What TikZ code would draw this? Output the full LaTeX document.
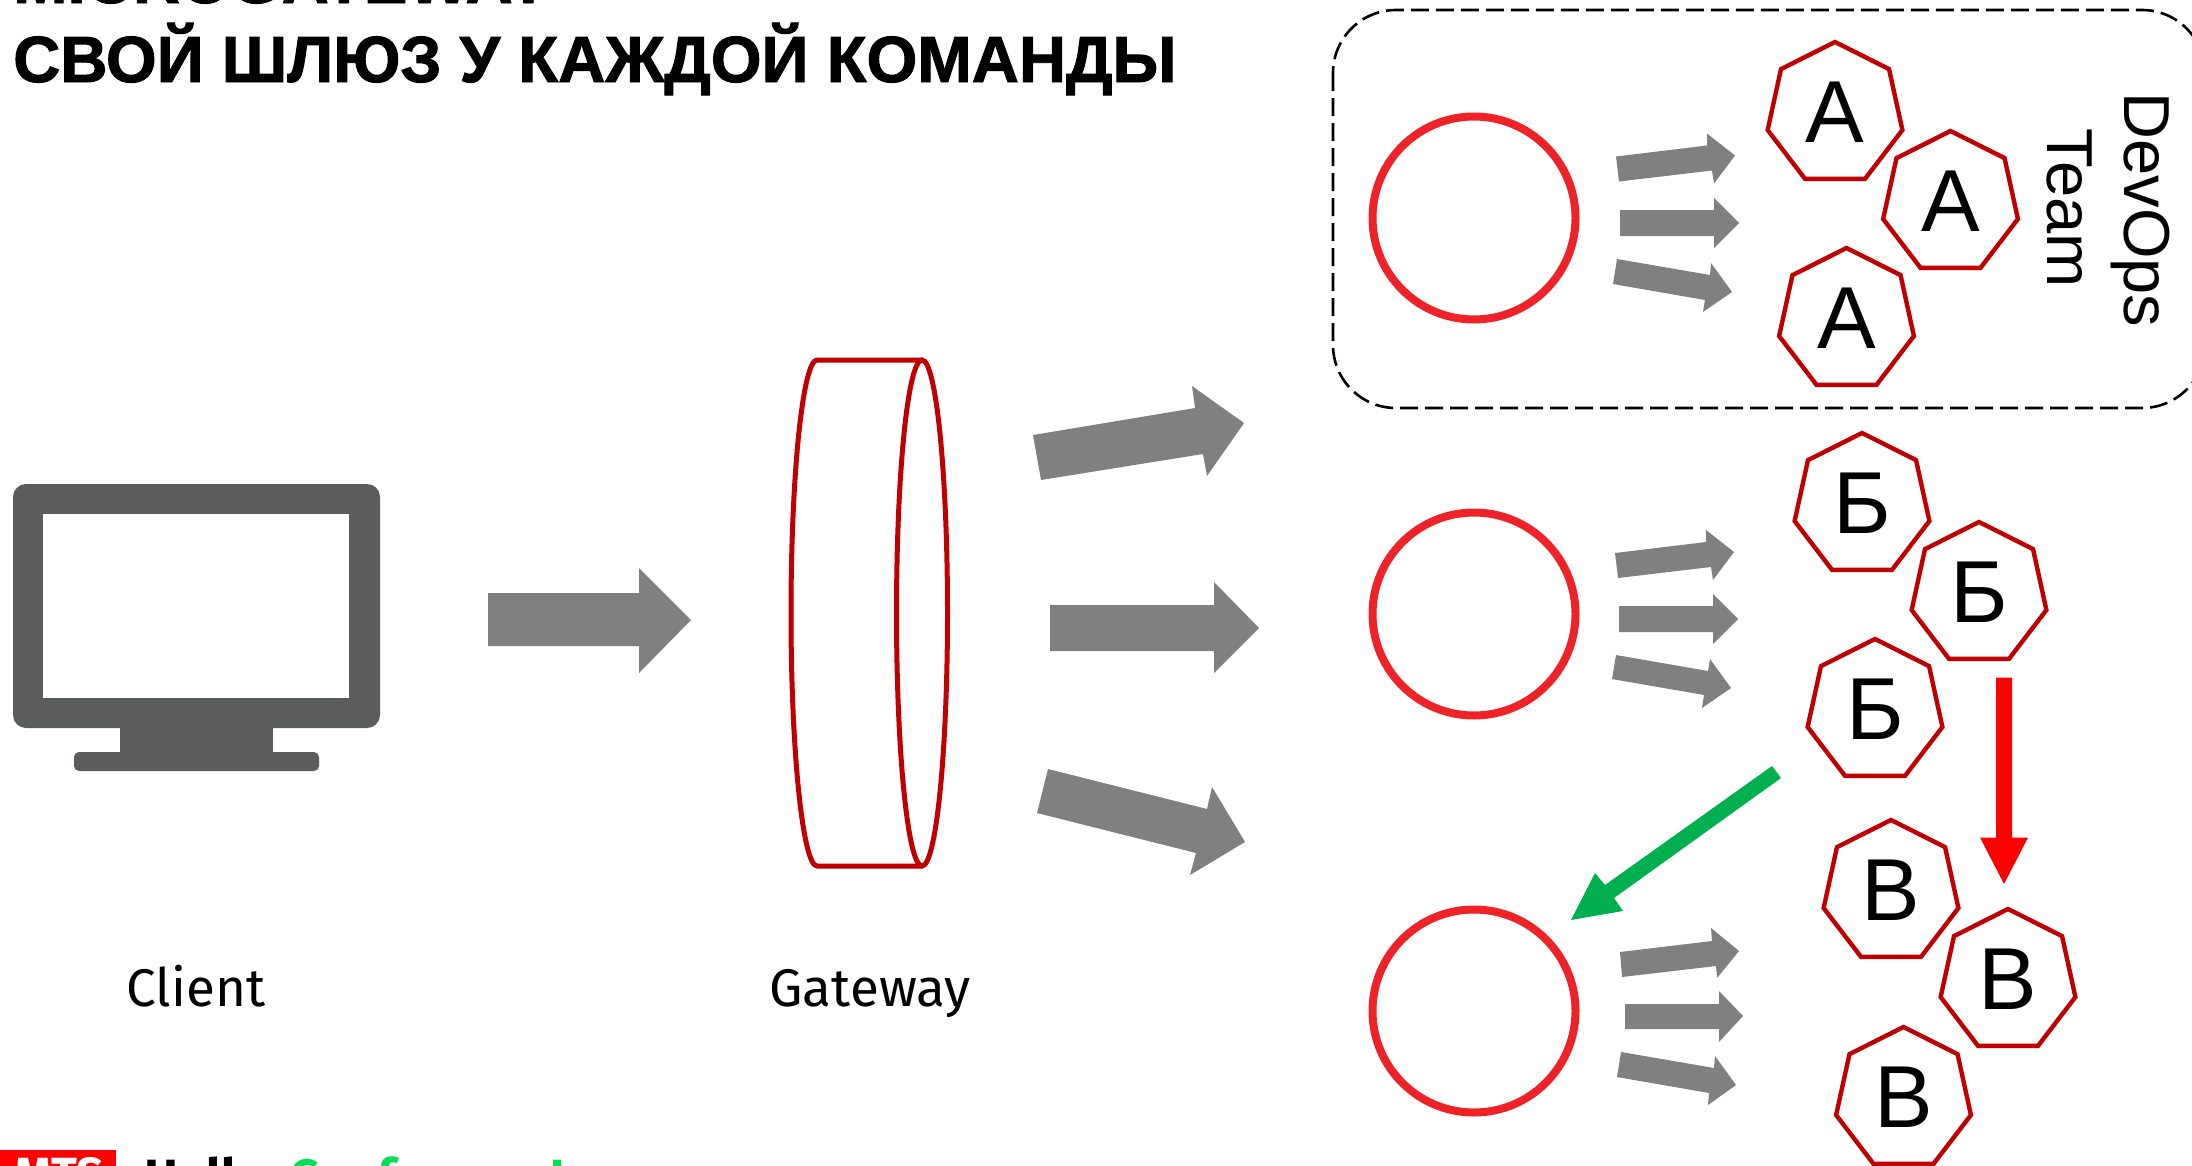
\documentclass[tikz,border=0pt]{standalone}
\usepackage{fontspec}
\usepackage{graphicx}
\setmainfont{Fira Sans}
\newfontfamily\lib{Liberation Sans}
\newfontfamily\titlefont[BoldFeatures={FakeBold=1.5}]{Liberation Sans}
\usetikzlibrary{shapes.geometric}
\definecolor{hepta}{HTML}{C00000}
\definecolor{ringred}{HTML}{EE2227}
\definecolor{blockgray}{HTML}{808080}
\definecolor{monitorgray}{HTML}{5B5D5C}
\definecolor{greenarrow}{HTML}{00B050}
\definecolor{hellogreen}{HTML}{00E050}
\newcommand\hl[1]{\raisebox{3pt}{\scalebox{1.04}[1]{#1}}}
\tikzset{
  heptagon/.style={regular polygon,regular polygon sides=7,draw=hepta,line width=4.4pt,minimum size=144pt,inner sep=0pt,xscale=.96,transform shape,font=\lib\fontsize{88}{88}\selectfont},
  ring/.style={circle,draw=ringred,line width=8pt,minimum size=203pt,inner sep=0pt},
  blockarrow/.style={fill=blockgray},
  caption/.style={font=\fontsize{53}{53}\selectfont,inner sep=0pt,anchor=base},
  sidelabel/.style={font=\lib\fontsize{65}{65}\selectfont,rotate=-90,inner sep=0pt,anchor=base},
  titletext/.style={font=\titlefont\bfseries\fontsize{65.3}{65.3}\selectfont,inner sep=0pt,anchor=base west},
  gateline/.style={draw=hepta,line width=5pt}
}
\begin{document}
\begin{tikzpicture}[x=1pt,y=-1pt]
\useasboundingbox (0,0) rectangle (2192,1165);
\clip (0,0) rectangle (2192,1165);
\fill[white] (0,0) rectangle (2192,1165);
% title
\node[titletext] (title1) at (13,3) {MICROGATEWAY};
\node[titletext] (title2) at (13,82) {СВОЙ ШЛЮЗ У КАЖДОЙ КОМАНДЫ};
% devops box
\draw[black,line width=2.6pt,dash pattern=on 18pt off 7pt,rounded corners=63pt] (1333,10) rectangle (2205,408);
% monitor
\fill[monitorgray,rounded corners=13pt] (13,484) rectangle (380,728);
\fill[monitorgray] (120,723) rectangle (273,758);
\fill[monitorgray,rounded corners=5pt] (74,752) rectangle (319,771);
\fill[white] (43,514) rectangle (349,698);
\node[caption] (client) at (196,1006) {Client};
\node[caption] (gateway) at (870,1006) {Gateway};
% client arrow
\fill[blockarrow] (488,593) -- (639,593) -- (639,568) -- (691,620) -- (639,673) -- (639,646) -- (488,646) -- cycle;
% gateway
\draw[gateline,line join=round] (922,360) -- (817,360) .. controls (803,360) and (791,473) .. (791,613) .. controls (791,753) and (803,866) .. (817,866) -- (922,866);
\node[ellipse,gateline,minimum width=51pt,minimum height=506pt,inner sep=0pt] (gate) at (922,613) {};
% gateway arrows
\fill[blockarrow] (1033,435) -- (1195,408) -- (1192,386) -- (1244,423) -- (1207,476) -- (1203,454) -- (1041,480) -- cycle;
\fill[blockarrow] (1050,605) -- (1214,605) -- (1214,582) -- (1259,628) -- (1214,673) -- (1214,651) -- (1050,651) -- cycle;
\fill[blockarrow] (1048,769) -- (1207,809) -- (1212,787) -- (1245,842) -- (1190,875) -- (1196,853) -- (1037,813) -- cycle;
% rings
\node[ring] (ringA) at (1474,218) {};
\node[ring] (ringB) at (1474,614) {};
\node[ring] (ringC) at (1474,1011) {};
% small arrows A
\fill[blockarrow] (1616,156.5) -- (1707,145.5) -- (1707,133.5) -- (1735,155.5) -- (1714,183.5) -- (1712,170.5) -- (1619,181.5) -- cycle;
\fill[blockarrow] (1620,210) -- (1714,210) -- (1714,198) -- (1739,223) -- (1714,248) -- (1714,236) -- (1620,236) -- cycle;
\fill[blockarrow] (1617,259) -- (1710,275) -- (1711,263) -- (1732,292) -- (1703,312) -- (1705,300) -- (1613,284) -- cycle;
% small arrows B
\fill[blockarrow] (1615,553) -- (1706,542) -- (1706,530) -- (1734,552) -- (1713,580) -- (1711,567) -- (1618,578) -- cycle;
\fill[blockarrow] (1619,606) -- (1713,606) -- (1713,594) -- (1738,619) -- (1713,644) -- (1713,632) -- (1619,632) -- cycle;
\fill[blockarrow] (1616,655) -- (1708,671) -- (1710,659) -- (1731,688) -- (1702,708) -- (1704,695) -- (1612,679) -- cycle;
% small arrows C
\fill[blockarrow] (1620,952) -- (1712,941) -- (1711,928) -- (1739,951) -- (1717,978) -- (1716,966) -- (1622,977) -- cycle;
\fill[blockarrow] (1625,1004) -- (1719,1004) -- (1719,991) -- (1743,1016) -- (1719,1042) -- (1719,1029) -- (1625,1029) -- cycle;
\fill[blockarrow] (1621,1052) -- (1714,1068) -- (1715,1056) -- (1736,1085) -- (1708,1105) -- (1709,1093) -- (1617,1077) -- cycle;
% heptagons
\node[heptagon] (a1) at (1835,114) {\hl{А}};
\node[heptagon] (a2) at (1950.5,203) {\hl{А}};
\node[heptagon] (a3) at (1846.5,320) {\hl{А}};
\node[heptagon] (b1) at (1862,505) {\hl{Б}};
\node[heptagon] (b2) at (1979,594) {\hl{Б}};
\node[heptagon] (b3) at (1875,711) {\hl{Б}};
\node[heptagon] (c1) at (1891,892) {\hl{В}};
\node[heptagon] (c2) at (2008,981) {\hl{В}};
\node[heptagon] (c3) at (1903.5,1099) {\hl{В}};
% side label
\node[sidelabel] (devops) at (2124,210) {DevOps};
\node[sidelabel] (team) at (2047,208) {Team};
% coloured arrows
\fill[greenarrow] (1772,766) -- (1781,778) -- (1614,898) -- (1623,911) -- (1571,920) -- (1595,873) -- (1605,885) -- cycle;
\fill[red] (1996,677.5) -- (2012,677.5) -- (2012,837.5) -- (2028,837.5) -- (2004,884) -- (1980,837.5) -- (1996,837.5) -- cycle;
% footer
\fill[red] (0,1150) rectangle (116,1170);
\node[font=\bfseries\fontsize{48}{48}\selectfont,text=white,inner sep=0pt,anchor=base west] (logo) at (14,1191) {MTS};
\node[font=\bfseries\fontsize{51}{51}\selectfont,inner sep=0pt,anchor=base west] (hello) at (144,1195) {Hello, \textcolor{hellogreen}{Conference!}};
\end{tikzpicture}
\end{document}
